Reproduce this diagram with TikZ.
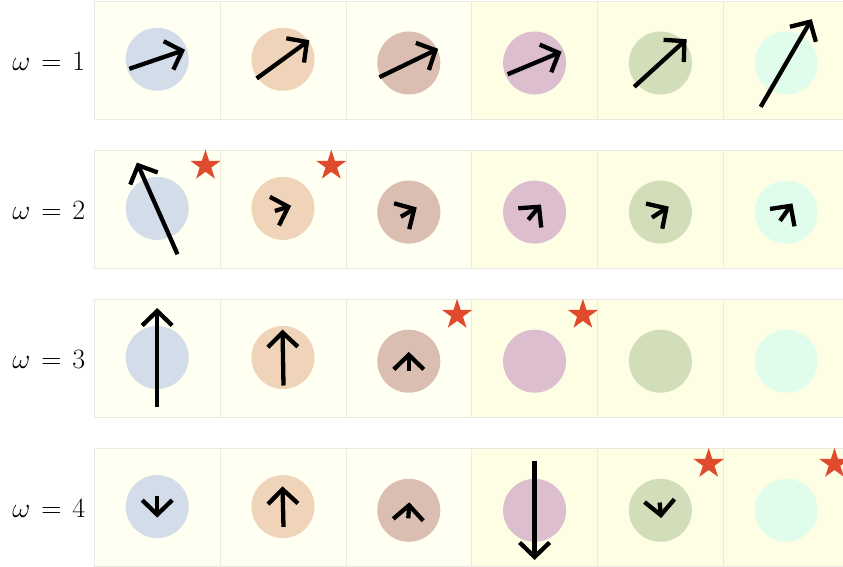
\RequirePackage{fix-cm}
\documentclass[tikz,border=0pt]{standalone}
\usepackage{xcolor}
\usepackage{tikz}
\usetikzlibrary{shapes.geometric, arrows.meta, positioning, calc}
\definecolor{paneledge}{RGB}{234,234,224}
\definecolor{panelpale}{RGB}{255,255,242}
\definecolor{panelwarm}{RGB}{254,254,229}
\definecolor{discA}{HTML}{D3DCE9}
\definecolor{discB}{HTML}{EFD4BA}
\definecolor{discC}{HTML}{DABEB2}
\definecolor{discD}{HTML}{DCBECE}
\definecolor{discE}{HTML}{D2DEB9}
\definecolor{discF}{HTML}{E0FDEC}
\definecolor{flagred}{HTML}{E14B2D}
\tikzset{
  panel/.style={rectangle, draw=paneledge, line width=0.8pt, minimum width=125.8pt, minimum height=118pt, inner sep=0pt},
  blob/.style={circle, minimum size=63pt, inner sep=0pt},
  spin/.style={line width=4.3pt, -{Straight Barb[length=14.5pt, width=30pt]}},
  flag/.style={star, star points=5, star point ratio=2.618, minimum size=32pt, inner sep=0pt, fill=flagred},
  tag/.style={font=\fontsize{28}{33}\selectfont, inner sep=0pt},
}

\begin{document}
\begin{tikzpicture}[x=1pt, y=-1pt]
\useasboundingbox (0,0) rectangle (843,567);
% panels, discs and row labels
\foreach \r in {1,...,4}{
  \foreach \c/\col in {1/discA,2/discB,3/discC,4/discD,5/discE,6/discF}{
    \pgfmathsetmacro\px{94.3+125.8*(\c-0.5)}
    \pgfmathsetmacro\py{60+149.1*(\r-1)}
    \pgfmathsetmacro\dy{\c<3 ? -0.7 : 3}
    \ifnum\c<4 \def\bg{panelpale}\else\def\bg{panelwarm}\fi
    \node[panel, fill=\bg] (p-\r-\c) at (\px,\py) {};
    \node[blob, fill=\col] (b-\r-\c) at (\px,\py+\dy) {};
  }
  \node[tag, left=8.5pt of p-\r-1, yshift=-1.6pt] (w-\r) {$\omega\mkern2mu=\mkern2mu\r$};
}
% row 1
\draw[spin] ($(b-1-1)-0.5*(55.7,-19)$) -- ($(b-1-1)+0.5*(55.7,-19)$);
\draw[spin] ($(b-1-2)-0.5*(52.6,-38.3)$) -- ($(b-1-2)+0.5*(52.6,-38.3)$);
\draw[spin] ($(b-1-3)-0.5*(58.7,-28.4)$) -- ($(b-1-3)+0.5*(58.7,-28.4)$);
\draw[spin] ($(b-1-4)-0.5*(54,-22.6)$) -- ($(b-1-4)+0.5*(54,-22.6)$);
\draw[spin] ($(b-1-5)-0.5*(52.4,-47.7)$) -- ($(b-1-5)+0.5*(52.4,-47.7)$);
\draw[spin] ($(b-1-6)-0.5*(51,-87.7)$) -- ($(b-1-6)+0.5*(51,-87.7)$);
% row 2
\draw[spin] ($(b-2-1)-0.5*(-40.6,-91.7)$) -- ($(b-2-1)+0.5*(-40.6,-91.7)$);
\draw[spin] ($(b-2-2)-0.5*(16.2,-5.2)$) -- ($(b-2-2)+0.5*(16.2,-5.2)$);
\draw[spin] ($(b-2-3)-0.5*(15.9,-9.3)$) -- ($(b-2-3)+0.5*(15.9,-9.3)$);
\draw[spin] ($(b-2-4)-0.5*(12.7,-15.2)$) -- ($(b-2-4)+0.5*(12.7,-15.2)$);
\draw[spin] ($(b-2-5)-0.5*(16.8,-10.9)$) -- ($(b-2-5)+0.5*(16.8,-10.9)$);
\draw[spin] ($(b-2-6)-0.5*(12.4,-17.4)$) -- ($(b-2-6)+0.5*(12.4,-17.4)$);
% row 3
\draw[spin] ($(b-3-1)-0.5*(0,-99)$) -- ($(b-3-1)+0.5*(0,-99)$);
\draw[spin] ($(b-3-2)-0.5*(-1,-56)$) -- ($(b-3-2)+0.5*(-1,-56)$);
\draw[spin] ($(b-3-3)-0.5*(0,-18.6)$) -- ($(b-3-3)+0.5*(0,-18.6)$);
% row 4
\draw[spin] ($(b-4-1)-0.5*(0,22)$) -- ($(b-4-1)+0.5*(0,22)$);
\draw[spin] ($(b-4-2)-0.5*(-1,-40.6)$) -- ($(b-4-2)+0.5*(-1,-40.6)$);
\draw[spin] ($(b-4-3)-0.5*(1,-16)$) -- ($(b-4-3)+0.5*(1,-16)$);
\draw[spin] ($(b-4-4)-0.5*(0,99.3)$) -- ($(b-4-4)+0.5*(0,99.3)$);
\draw[spin] ($(b-4-5)-0.5*(1.5,15.5)$) -- ($(b-4-5)+0.5*(1.5,15.5)$);
% stars
\node[flag] (s-2-1) at ([shift={(-15,16)}]p-2-1.north east) {};
\node[flag] (s-2-2) at ([shift={(-15,16)}]p-2-2.north east) {};
\node[flag] (s-3-3) at ([shift={(-15,16)}]p-3-3.north east) {};
\node[flag] (s-3-4) at ([shift={(-15,16)}]p-3-4.north east) {};
\node[flag] (s-4-5) at ([shift={(-15,16)}]p-4-5.north east) {};
\node[flag] (s-4-6) at ([shift={(-15,16)}]p-4-6.north east) {};
\end{tikzpicture}
\end{document}
